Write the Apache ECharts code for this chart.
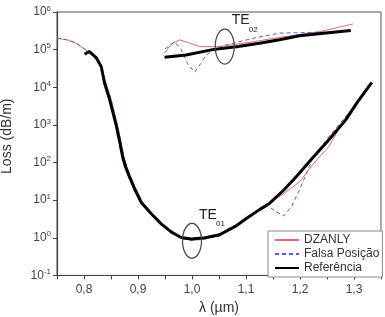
<!DOCTYPE html>
<html><head><meta charset="utf-8">
<script src="https://cdn.jsdelivr.net/npm/echarts@6/dist/echarts.min.js"></script>
<style>html,body{margin:0;padding:0;background:#fff}#c{width:385px;height:317px}</style>
</head><body><div id="c"></div>
<script>
// wavelength (µm) and loss (dB/m)
const refTE01X = [0.801,0.810,0.823,0.832,0.838,0.8475,0.860,0.866,0.872,0.877,0.884,0.894,0.906,0.925,0.943,0.962,0.980,0.9985,1.020,1.051,1.080,1.104,1.125,1.144,1.170,1.193,1.224,1.254,1.285,1.306,1.333];
const refTE01Y = [7.6e4,8.9e4,6.0e4,3.5e4,1.3e4,4.7e3,9.3e2,3.6e2,132,76,42,19.5,8.7,4.3,2.34,1.41,1.02,0.93,0.98,1.2,2.0,3.5,5.6,8.3,18.6,41.7,135,407,1380,3980,1.35e4];
const dzTE01X = [0.750,0.768,0.786,0.800,0.815,0.830,0.840,0.850,0.862,0.868,0.874,0.879,0.886,0.896,0.908,0.927,0.945,0.964,0.982,0.999,1.020,1.050,1.080,1.104,1.125,1.140,1.157,1.174,1.199,1.224,1.254,1.288,1.300];
const dzTE01Y = [2.0e5,1.82e5,1.45e5,1.05e5,7.6e4,4.2e4,1.4e4,5.0e3,1.0e3,3.8e2,140,80,44,20,8.9,4.3,2.3,1.35,0.95,0.87,0.91,1.12,1.95,3.4,5.5,7.4,11.2,16.6,30.2,89,275,1900,3000];
const fpTE01X = [0.750,0.768,0.786,0.800,0.815,0.830,0.840,0.850,0.862,0.868,0.874,0.879,0.886,0.896,0.908,0.927,0.945,0.964,0.982,0.999,1.020,1.050,1.080,1.104,1.125,1.140,1.155,1.170,1.185,1.200,1.224,1.254,1.288,1.300];
const fpTE01Y = [2.05e5,1.85e5,1.5e5,1.07e5,7.4e4,4.0e4,1.3e4,4.6e3,9.5e2,3.7e2,137,78,43,19.8,8.8,4.2,2.28,1.33,0.93,0.86,0.9,1.1,1.9,3.4,5.5,7.1,5.0,3.8,7.1,20,135,500,1900,3000];
const refTE02X = [0.949,0.989,1.038,1.082,1.125,1.162,1.199,1.248,1.294];
const refTE02Y = [6.3e4,7.2e4,1.0e5,1.2e5,1.48e5,1.82e5,2.34e5,2.75e5,3.24e5];
const dzTE02X = [0.949,0.962,0.977,0.995,1.014,1.051,1.113,1.174,1.236,1.298];
const dzTE02Y = [8.3e4,1.4e5,1.82e5,1.5e5,1.2e5,1.2e5,1.62e5,2.24e5,3.0e5,4.8e5];
const fpTE02X = [0.950,0.968,0.980,0.992,1.005,1.016,1.026,1.051,1.113,1.162,1.236,1.262];
const fpTE02Y = [1.05e5,1.62e5,1.0e5,4.2e4,2.5e4,4.2e4,7.2e4,1.2e5,2.0e5,2.75e5,2.9e5,3.0e5];
const xTicks = [0.8,0.9,1.0,1.1,1.2,1.3];
const legendNames = ['DZANLY','Falsa Posição','Referência'];

const zip = (xs, ys) => xs.map((x, i) => [x, ys[i]]);
const chart = echarts.init(document.getElementById('c'), null, {renderer: 'canvas'});
const font = 'Liberation Sans, Arial, sans-serif';
const redStyle = {color: '#e46a6a', width: 1};
const blueStyle = {color: '#5a5ad6', width: 1, type: [4, 3]};
const blackStyle = {color: '#000', width: 3};
function ser(name, data, ls, z) {
  return {name, type: 'line', data, symbol: 'none', showSymbol: false, lineStyle: ls, itemStyle: {color: ls.color}, z, animation: false};
}
chart.setOption({
  animation: false,
  textStyle: {fontFamily: font},
  grid: {left: 57, right: 4, top: 12, bottom: 41.6, show: true, borderColor: '#555', borderWidth: 1,
         containLabel: false, outerBoundsMode: 'none'},
  legend: {
    data: legendNames, orient: 'vertical', left: 268, top: 231, padding: [3, 3, 3, 6],
    itemGap: 2, itemWidth: 24, itemHeight: 12, borderColor: '#888', borderWidth: 1, borderRadius: 0,
    backgroundColor: '#fff', itemStyle: {opacity: 0},
    textStyle: {fontSize: 12, color: '#333', fontFamily: font, padding: [0, 0, 0, 0]}
  },
  xAxis: {
    type: 'value', min: 0.75, max: 1.35, interval: 0.05,
    name: 'λ (µm)', nameLocation: 'middle', nameGap: 26,
    nameTextStyle: {fontSize: 14, color: '#333', fontFamily: font},
    axisLine: {lineStyle: {color: '#444', width: 1.2}},
    axisTick: {show: true, inside: false, length: 4, lineStyle: {color: '#444'}},
    splitLine: {show: false},
    axisLabel: {
      fontSize: 12, color: '#444', margin: 8, fontFamily: font,
      formatter: v => xTicks.some(t => Math.abs(t - v) < 1e-6) ? v.toFixed(1).replace('.', ',') : ''
    }
  },
  yAxis: {
    type: 'log', logBase: 10, min: 0.1, max: 1e6, interval: 1,
    name: 'Loss (dB/m)', nameLocation: 'middle', nameGap: 43,
    nameTextStyle: {fontSize: 14, color: '#333', fontFamily: font, padding: [0, 0, 0, 15]},
    axisLine: {show: true, lineStyle: {color: '#444', width: 1.2}},
    axisTick: {show: true, inside: false, length: 4, lineStyle: {color: '#444'}},
    splitLine: {show: false},
    axisLabel: {
      color: '#444', margin: 6, fontFamily: font,
      formatter: v => '10{e|' + Math.round(Math.log10(v)) + '}',
      rich: {e: {fontSize: 8, color: '#444', verticalAlign: 'bottom', padding: [0, 0, 7, 0], fontFamily: font}}
    }
  },
  series: [
    ser('DZANLY', zip(dzTE01X, dzTE01Y), redStyle, 2),
    ser('DZANLY', zip(dzTE02X, dzTE02Y), redStyle, 2),
    ser('Falsa Posição', zip(fpTE01X, fpTE01Y), blueStyle, 3),
    ser('Falsa Posição', zip(fpTE02X, fpTE02Y), blueStyle, 3),
    ser('Referência', zip(refTE01X, refTE01Y), blackStyle, 4),
    ser('Referência', zip(refTE02X, refTE02Y), blackStyle, 4)
  ]
});
// annotations: ellipses + mode labels, anchored by data coordinates
const e02 = chart.convertToPixel({gridIndex: 0}, [1.0606, Math.pow(10, 5.08)]);
const e01 = chart.convertToPixel({gridIndex: 0}, [1.0, Math.pow(10, -0.08)]);
function ann(c, sub) {
  return [
    {type: 'ellipse', shape: {cx: c[0], cy: c[1], rx: 9.5, ry: 17.5}, style: {fill: null, stroke: '#444', lineWidth: 1.2}, z: 10},
    {type: 'text', x: c[0] + 7, y: c[1] - 33, style: {text: 'TE', fontSize: 14, fill: '#222', fontFamily: font}, z: 10},
    {type: 'text', x: c[0] + 24, y: c[1] - 21, style: {text: sub, fontSize: 8, fill: '#222', fontFamily: font}, z: 10}
  ];
}
chart.setOption({graphic: {elements: ann(e02, '02').concat(ann(e01, '01'))}});
</script></body></html>
